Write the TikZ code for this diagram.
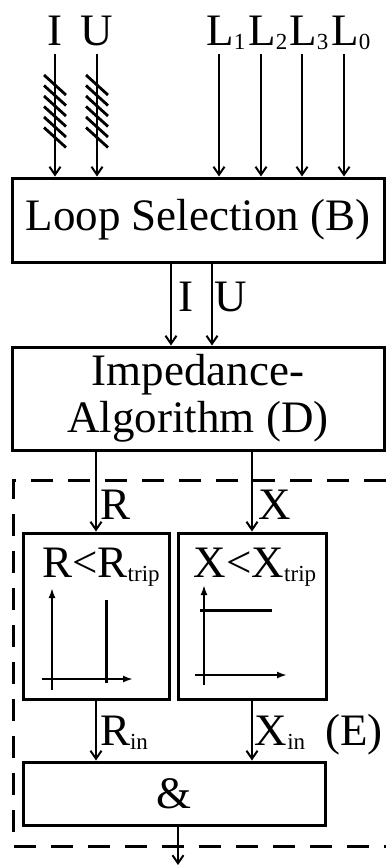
\documentclass[tikz,border=0pt]{standalone}
\usepackage{fontspec}
\setmainfont{Liberation Serif}
\usetikzlibrary{arrows.meta}
\newcommand{\lowsub}[1]{\raisebox{-4pt}{\fontsize{23}{23}\selectfont #1}}

\begin{document}
\begin{tikzpicture}[x=1pt, y=-1pt,
    every node/.style={font=\fontsize{45}{47}\selectfont, inner sep=0pt},
    blockbox/.style={draw, line width=3pt, align=center},
    inlabel/.style={anchor=base, text depth=8pt},
    sig/.style={-{Straight Barb[length=8pt,width=11pt,line width=2pt]}, line width=1.8pt},
    axis/.style={-{Latex[length=10pt,width=7pt]}, line width=2pt},
    trip/.style={line width=3pt},
    hatch/.style={line width=2.8pt},
    frame/.style={dash pattern=on 22pt off 15pt, line width=3pt}]
  \useasboundingbox (0,0) rectangle (386,867);

  % measured inputs and loop selection
  \node[inlabel] (inI) at (55,46) {I};
  \node[inlabel] (inU) at (97,46) {U};
  \node[inlabel] (inL1) at (226,46) {L\lowsub{1}};
  \node[inlabel] (inL2) at (268,46) {L\lowsub{2}};
  \node[inlabel] (inL3) at (309,46) {L\lowsub{3}};
  \node[inlabel] (inL0) at (351,46) {L\lowsub{0}};
  \node[blockbox, minimum width=372pt, minimum height=84pt] (B) at (198,220) {Loop Selection (B)};
  \draw[sig] (inI.south) -- (inI.south |- B.north);
  \draw[sig] (inU.south) -- (inU.south |- B.north);
  \foreach \l/\dx in {L1/-7,L2/-7,L3/-7,L0/-7}
    \draw[sig] ([xshift=\dx pt]in\l.south) -- ([xshift=\dx pt]in\l.south |- B.north);
  % multi-phase bundles
  \foreach \x in {55,97}
    \foreach \y in {85,95.5,106,116.5,127,137.5}
      \draw[hatch] (\x-11,\y-10) -- (\x+11,\y+10);

  % impedance algorithm
  \node[blockbox, minimum width=372pt, minimum height=103pt] (D) at (198,398.5) {Impedance-\\Algorithm (D)};
  \draw[sig] ([xshift=-27pt]B.south) -- ([xshift=-27pt]D.north);
  \draw[sig] ([xshift=14pt]B.south) -- ([xshift=14pt]D.north);
  \node[anchor=base] (lI) at (186,311) {I};
  \node[anchor=base] (lU) at (231,311) {U};

  % trip comparators (E)
  \node[blockbox, minimum width=146pt, minimum height=166pt] (RC) at (96,616) {};
  \node[blockbox, minimum width=148pt, minimum height=166pt] (XC) at (252,616) {};
  \node[anchor=base] (rtitle) at (101,577) {R<R\lowsub{trip}};
  \node[anchor=base] (xtitle) at (255,577) {X<X\lowsub{trip}};
  \draw[sig] (D.south -| RC.north) -- (RC.north);
  \draw[sig] (D.south -| XC.north) -- (XC.north);
  \node[anchor=base] (lR) at (116,519) {R};
  \node[anchor=base] (lX) at (275,519) {X};

  \draw[axis] (52,690) -- (52,588);
  \draw[axis] (42,679) -- (133,679);
  \draw[trip] (106,600) -- (106,683);
  \draw[axis] (204,685) -- (204,585);
  \draw[axis] (195,675) -- (287,675);
  \draw[trip] (200,610) -- (272,610);

  \node[blockbox, minimum width=302pt, minimum height=63pt] (AND) at (174,793.5) {\&};
  \draw[sig] (RC.south) -- (RC.south |- AND.north);
  \draw[sig] (XC.south) -- (XC.south |- AND.north);
  \node[anchor=base] (lRin) at (124,745) {R\lowsub{in}};
  \node[anchor=base] (lXin) at (280,745) {X\lowsub{in}};
  \node[anchor=base] (lE) at (354,745) {(E)};
  \coordinate (out) at (178,865);
  \draw[sig] (AND.south -| out) -- (out);

  \draw[frame] (386,480) -- (13,480) -- (13,846) -- (386,846);
\end{tikzpicture}
\end{document}
